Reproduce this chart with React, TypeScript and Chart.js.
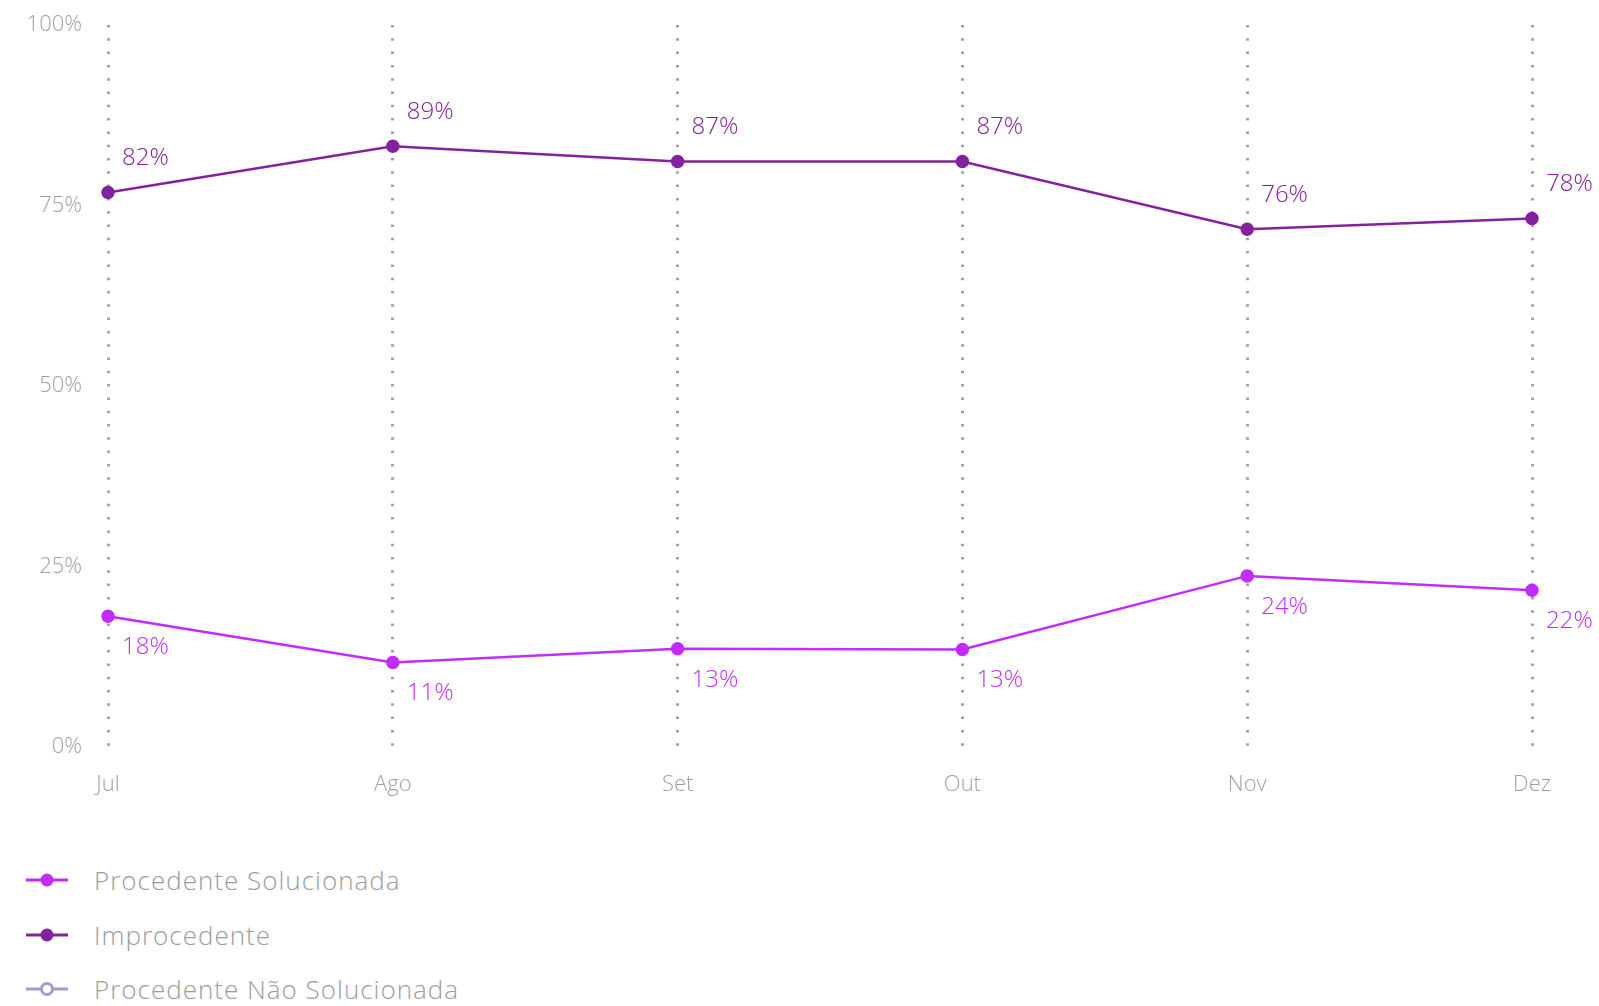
import React, { useEffect, useRef } from "react";
import { Chart, registerables } from "chart.js";

Chart.register(...registerables);

const months = ["Jul", "Ago", "Set", "Out", "Nov", "Dez"];
const yTicks = [0, 25, 50, 75, 100];

const procedenteSolucionada = [18.1, 11.7, 13.6, 13.5, 23.7, 21.7];
const procedenteSolucionadaLabels = ["18%", "11%", "13%", "13%", "24%", "22%"];

const improcedente = [76.8, 83.2, 81.1, 81.1, 71.7, 73.2];
const improcedenteLabels = ["82%", "89%", "87%", "87%", "76%", "78%"];

const procedenteNaoSolucionada: number[] = [];

const seriesNames = ["Procedente Solucionada", "Improcedente", "Procedente Não Solucionada"];
const seriesColors = ["#c22cff", "#84229e", "#a19ecb"];

const FONT = "'Open Sans', Lato, sans-serif";

const pointLabelsPlugin = {
  id: "pointLabels",
  afterDatasetsDraw(chart: any) {
    const ctx = chart.ctx;
    chart.data.datasets.forEach((ds: any, i: number) => {
      const labels: string[] | undefined = ds.pointLabels;
      if (!labels) return;
      const meta = chart.getDatasetMeta(i);
      ctx.save();
      ctx.font = `300 24px ${FONT}`;
      ctx.fillStyle = ds.borderColor;
      ctx.textAlign = "left";
      ctx.textBaseline = "middle";
      meta.data.forEach((pt: any, j: number) => {
        const dy = ds.labelBelow ? 31 : -34;
        ctx.fillText(labels[j], pt.x + 14, pt.y + dy);
      });
      ctx.restore();
    });
  },
};

function LegendMarker({ color, hollow }: { color: string; hollow: boolean }) {
  return (
    <svg width="44" height="20" style={{ display: "block" }}>
      <line x1="1" y1="10" x2="43" y2="10" stroke={color} strokeWidth="3" />
      <circle cx="22" cy="10" r={hollow ? 5.5 : 6.5} fill={hollow ? "#fff" : color} stroke={color} strokeWidth={hollow ? 3 : 0} />
    </svg>
  );
}

export default function App() {
  const canvasRef = useRef<HTMLCanvasElement | null>(null);

  useEffect(() => {
    document.body.style.margin = "0";
    const canvas = canvasRef.current!;
    const chart = new Chart(canvas, {
      type: "line",
      data: {
        labels: months,
        datasets: [
          {
            label: seriesNames[0],
            data: procedenteSolucionada,
            borderColor: seriesColors[0],
            backgroundColor: seriesColors[0],
            borderWidth: 2.5,
            pointRadius: 5.5,
            pointHoverRadius: 5.5,
            tension: 0,
            pointLabels: procedenteSolucionadaLabels,
            labelBelow: true,
          } as any,
          {
            label: seriesNames[1],
            data: improcedente,
            borderColor: seriesColors[1],
            backgroundColor: seriesColors[1],
            borderWidth: 2.5,
            pointRadius: 5.5,
            pointHoverRadius: 5.5,
            tension: 0,
            pointLabels: improcedenteLabels,
            labelBelow: false,
          } as any,
          {
            label: seriesNames[2],
            data: procedenteNaoSolucionada,
            borderColor: seriesColors[2],
            backgroundColor: "#ffffff",
            borderWidth: 2.5,
            pointRadius: 5.5,
            tension: 0,
          } as any,
        ],
      },
      options: {
        animation: false,
        responsive: false,
        maintainAspectRatio: false,
        layout: { padding: { top: 25, right: 67, left: 0, bottom: 0 } },
        plugins: {
          legend: { display: false },
          tooltip: { enabled: false },
        },
        scales: {
          x: {
            offset: false,
            grid: {
              display: true,
              color: "#a3a3a3",
              lineWidth: 3,
              drawTicks: false,
            },
            border: { display: false, dash: [2.5, 10.8] },
            ticks: {
              color: "#a0a0a0",
              font: { family: FONT, size: 22, weight: 300 as any },
              padding: 25,
              maxRotation: 0,
            },
            afterFit: (scale: any) => {
              scale.height = 63;
            },
          },
          y: {
            min: 0,
            max: 100,
            afterBuildTicks: (scale: any) => {
              scale.ticks = yTicks.map((v) => ({ value: v }));
            },
            grid: { display: false, drawTicks: false },
            border: { display: false },
            ticks: {
              color: "#a0a0a0",
              font: { family: FONT, size: 22, weight: 300 as any },
              padding: 26,
              callback: (v: any) => `${v}%`,
            },
            afterFit: (scale: any) => {
              scale.width = 108;
              scale.paddingTop = 12;
              scale.paddingBottom = 12;
            },
          },
        },
      },
      plugins: [pointLabelsPlugin],
    });
    return () => chart.destroy();
  }, []);

  return (
    <div style={{ width: 1599, height: 1006, background: "#fff", position: "relative", overflow: "hidden" }}>
      <canvas ref={canvasRef} width={1599} height={810} style={{ display: "block", width: 1599, height: 810 }} />
      <div style={{ position: "absolute", left: 25, top: 853, fontFamily: FONT, fontWeight: 300, fontSize: 26, letterSpacing: 1, color: "#9c9c9c" }}>
        {seriesNames.map((name, i) => (
          <div key={name} style={{ display: "flex", alignItems: "center", height: 54.5 }}>
            <LegendMarker color={seriesColors[i]} hollow={i === 2} />
            <span style={{ marginLeft: 25 }}>{name}</span>
          </div>
        ))}
      </div>
    </div>
  );
}
